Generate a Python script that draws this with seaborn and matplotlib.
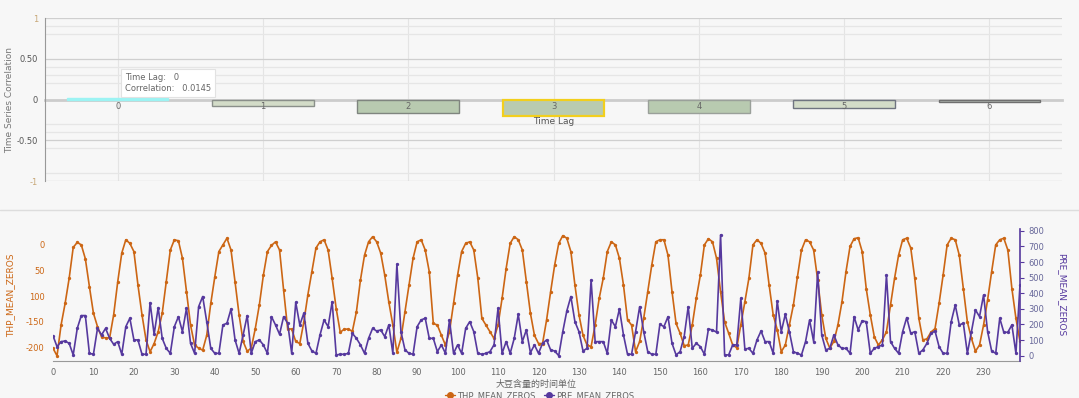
import numpy as np
import pandas as pd
import matplotlib
matplotlib.use("Agg")
import matplotlib.pyplot as plt
from matplotlib.lines import Line2D
import seaborn as sns

# ── DATOS ──────────────────────────────────────────────────
lags = ["0", "1", "2", "3", "4", "5", "6"]
correlaciones = [0.0145, -0.074, -0.16, -0.20, -0.17, -0.10, -0.035]
colores_barras = ["#9cf3f3", "#d3dcc8", "#b8cab0", "#b9cbb1", "#b8cab0", "#d3dcc8", "#b3b9b3"]
bordes_barras = ["#9cf3f3", "#8a8f8a", "#7f857f", "#f2cf1d", "#9aa09a", "#6f7480", "#707070"]

thp = [-201, -216, -156, -114, -65, -5, 5, 0, -27, -81, -133, -159, -179, -181, -181, -136,
       -72, -16, 10, 3, -13, -78, -136, -185, -208, -192, -169, -133, -72, -10, 10, 8,
       -26, -91, -156, -195, -201, -205, -176, -114, -62, -13, 0, 13, -10, -72, -136, -188,
       -207, -201, -163, -117, -59, -13, -1, 6, -10, -88, -163, -164, -188, -192, -150, -97,
       -52, -6, 6, 10, -10, -65, -124, -170, -164, -164, -168, -130, -68, -20, 6, 16,
       6, -16, -59, -111, -156, -209, -182, -130, -78, -26, 6, 10, -10, -52, -153, -156,
       -176, -195, -169, -114, -59, -13, 3, 6, -10, -65, -143, -156, -169, -182, -156, -104,
       -46, 3, 16, 10, -10, -72, -133, -176, -192, -192, -146, -91, -39, 3, 18, 13,
       -13, -78, -136, -176, -195, -198, -156, -104, -65, -13, 6, 0, -26, -78, -146, -156,
       -208, -188, -143, -91, -39, 6, 10, 10, -20, -91, -153, -172, -196, -195, -156, -104,
       -59, 0, 12, 6, -26, -91, -150, -172, -195, -200, -156, -111, -65, 0, 10, 3,
       -16, -78, -136, -165, -208, -195, -156, -117, -62, -10, 10, 6, -10, -68, -136, -182,
       -201, -188, -156, -111, -52, -3, 12, 14, -13, -85, -136, -179, -195, -185, -169, -117,
       -65, -20, 10, 13, -6, -65, -143, -185, -183, -170, -163, -114, -59, 0, 13, 10,
       -20, -85, -150, -182, -207, -195, -156, -107, -52, 0, 10, 13, -10, -85, -143, -188]

pre = [128, 58, 90, 94, 79, 5, 175, 257, 257, 15, 9, 175, 133, 175, 111, 73,
       90, 9, 186, 240, 101, 101, 9, 9, 340, 137, 308, 111, 47, 15, 186, 250,
       154, 304, 79, 15, 314, 379, 218, 47, 15, 15, 197, 208, 299, 101, 15, 133,
       257, 15, 90, 101, 69, 15, 250, 197, 137, 250, 208, 15, 342, 197, 272, 79,
       30, 15, 133, 229, 186, 346, 5, 9, 9, 15, 143, 111, 69, 15, 111, 175,
       158, 165, 122, 197, 15, 586, 154, 37, 15, 9, 186, 229, 240, 111, 111, 26,
       69, 15, 229, 15, 69, 15, 175, 218, 154, 15, 9, 15, 26, 69, 304, 15,
       90, 15, 111, 265, 90, 165, 19, 69, 15, 79, 101, 37, 30, 0, 154, 287,
       379, 218, 154, 30, 47, 485, 90, 90, 90, 15, 229, 186, 299, 133, 9, 9,
       154, 314, 154, 26, 9, 9, 201, 186, 250, 79, 5, 26, 122, 314, 47, 79,
       58, 9, 171, 165, 150, 774, 5, 5, 69, 69, 368, 43, 47, 15, 101, 158,
       90, 90, 15, 351, 154, 265, 154, 26, 15, 5, 90, 229, 90, 535, 133, 37,
       47, 133, 69, 47, 47, 15, 250, 165, 223, 218, 15, 47, 58, 69, 517, 90,
       47, 15, 154, 244, 143, 154, 15, 37, 79, 143, 158, 58, 15, 15, 218, 325,
       197, 208, 15, 154, 293, 250, 389, 154, 30, 15, 240, 150, 150, 197, 15, 453]

tiempo = list(range(len(thp)))
ticks_thp = [0, -50, -100, -150, -200]
etiquetas_thp = ["0", "50", "100", "-150", "-200"]
ticks_pre = [0, 100, 200, 300, 400, 500, 600, 700, 800]

df_corr = pd.DataFrame({"lag": lags, "corr": correlaciones})
df_series = pd.DataFrame({"t": tiempo, "THP_MEAN_ZEROS": thp, "PRE_MEAN_ZEROS": pre})

# ── ESTILO ─────────────────────────────────────────────────
sns.set_style("white")
fondo = "#f7f7f7"
naranja = "#cc6614"
morado = "#56399e"
gris_txt = "#666666"

fig = plt.figure(figsize=(10.79, 3.98), dpi=100, facecolor=fondo)

# ══════════════════════════════════════════════════════════
# GRÁFICO SUPERIOR: correlación por desfase
# ══════════════════════════════════════════════════════════
ax1 = fig.add_axes([0.0417, 0.5452, 0.9426, 0.4095], facecolor=fondo)
sns.barplot(data=df_corr, x="lag", y="corr", hue="lag", palette=colores_barras,
            legend=False, width=0.7, ax=ax1, saturation=1, zorder=3)
for barra, borde in zip(ax1.patches, bordes_barras):
    barra.set_edgecolor(borde)
    barra.set_linewidth(1.6 if borde == "#f2cf1d" else 1.0)

ax1.set_ylim(-1, 1)
ax1.set_xlim(-0.5, 6.5)
ax1.set_yticks([-1, -0.5, 0, 0.5, 1])
ax1.set_yticks([0.9, 0.8, 0.4, 0.3, 0.2, -0.3, -0.4, -0.6, -0.9], minor=True)
ax1.set_yticklabels(["-1", "-0.50", "0", "0.50", "1"], fontsize=6, color="#555555")
for lbl in [ax1.get_yticklabels()[0], ax1.get_yticklabels()[-1]]:
    lbl.set_color("#c8a878")
ax1.grid(axis="y", which="major", color="#cfcfcf", linewidth=0.9)
ax1.grid(axis="y", which="minor", color="#e6e6e6", linewidth=0.9)
# líneas verticales por categoría, debajo de las barras
for xt in ax1.get_xticks():
    ax1.axvline(xt, color="#e4e4e4", linewidth=0.8, zorder=0)
ax1.xaxis.set_zorder(4)
ax1.tick_params(axis="y", which="major", length=3, color="#999999", pad=2)
ax1.tick_params(axis="y", which="minor", length=0)
ax1.tick_params(axis="x", length=3, direction="in", color="#888888", labelsize=6,
                labelcolor="#666666", pad=2)

ax1.spines["bottom"].set_position(("data", 0))
ax1.spines["bottom"].set_color("#cccccc")
ax1.spines["bottom"].set_linewidth(2)
ax1.spines["bottom"].set_zorder(2)
ax1.spines["left"].set_color("#999999")
ax1.spines["top"].set_visible(False)
ax1.spines["right"].set_visible(False)
ax1.set_xlabel("Time Lag", fontsize=6.5, color="#555555", labelpad=4)
ax1.set_ylabel("Time Series Correlation", fontsize=6.5, color="#777777", labelpad=2)

# tooltip
ax1.text(0.05, 0.20, "Time Lag:   0\nCorrelation:   0.0145", fontsize=6, color="#666666",
         va="center", ha="left", linespacing=1.3, zorder=5,
         bbox=dict(boxstyle="square,pad=0.45", fc="white", ec="#e2e2e2", lw=0.8))

# separador
fig.add_artist(Line2D([0, 1], [0.4724, 0.4724], color="#dddddd", linewidth=1))

# ══════════════════════════════════════════════════════════
# GRÁFICO INFERIOR: series THP y PRE
# ══════════════════════════════════════════════════════════
ax2 = fig.add_axes([0.0491, 0.0930, 0.8962, 0.3317], facecolor=fondo)
ax3 = ax2.twinx()

sns.lineplot(data=df_series, x="t", y="THP_MEAN_ZEROS", ax=ax2, color=naranja,
             linewidth=1.2, marker="o", markersize=2.4, markeredgewidth=0)
sns.lineplot(data=df_series, x="t", y="PRE_MEAN_ZEROS", ax=ax3, color=morado,
             linewidth=1.2, marker="o", markersize=2.4, markeredgewidth=0)

ax2.set_xlim(0, 239)
ax2.set_ylim(-226, 31)
ax3.set_ylim(-34, 812)

ax2.set_xticks(list(range(0, 240, 10)))
ax2.tick_params(axis="x", length=3, color="#999999", labelsize=6, labelcolor=gris_txt, pad=2)
ax2.set_yticks(ticks_thp)
ax2.set_yticklabels(etiquetas_thp, fontsize=6, color=naranja)
ax2.tick_params(axis="y", length=0, pad=6)
ax3.set_yticks(ticks_pre)
ax3.tick_params(axis="y", length=3, color=morado, labelsize=6, labelcolor="#666699", pad=3)

for a in (ax2, ax3):
    a.spines["top"].set_visible(False)
    a.spines["left"].set_visible(False)
ax2.spines["right"].set_visible(False)
ax2.spines["bottom"].set_color("#999999")
ax3.spines["bottom"].set_visible(False)
ax3.spines["right"].set_color(morado)
ax3.spines["right"].set_linewidth(1.2)

ax2.set_ylabel("THP_MEAN_ZEROS", fontsize=6.5, color=naranja, labelpad=8)
ax3.set_ylabel("PRE_MEAN_ZEROS", fontsize=6.5, color=morado, rotation=270, labelpad=16)
ax2.set_xlabel("大豆含量的时间单位", fontsize=6.5, color=gris_txt, labelpad=2, style="italic",
               family=["Noto Sans CJK SC", "DejaVu Sans"])

manijas = [Line2D([], [], color=naranja, marker="o", markersize=4, linewidth=1),
           Line2D([], [], color=morado, marker="o", markersize=4, linewidth=1)]
fig.legend(manijas, ["THP_MEAN_ZEROS", "PRE_MEAN_ZEROS"], loc="center",
           bbox_to_anchor=(0.5, 0.007), ncol=2, frameon=False, fontsize=6,
           labelcolor=gris_txt, handlelength=1.2, handletextpad=0.3, columnspacing=1.0,
           borderpad=0.1)

plt.savefig("out.png", dpi=100, facecolor=fondo)
